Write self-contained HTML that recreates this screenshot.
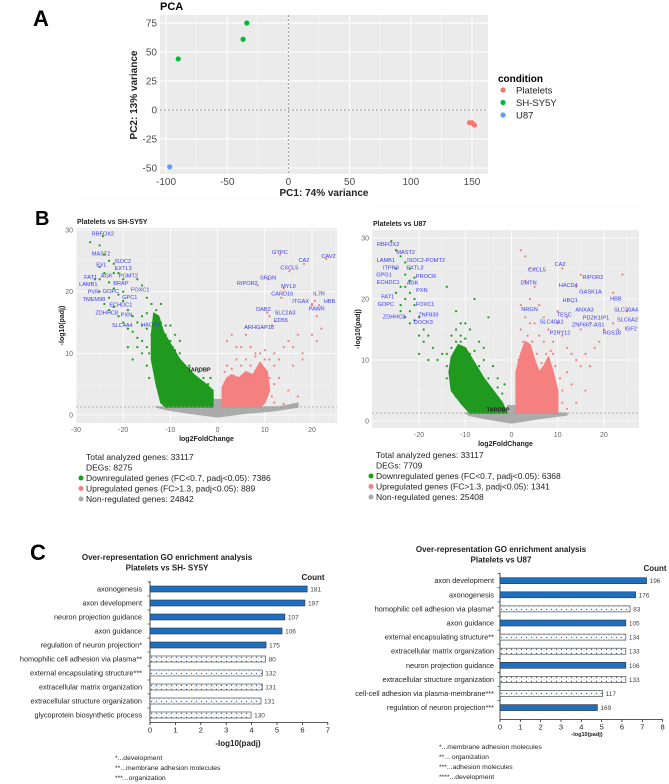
<!DOCTYPE html>
<html><head><meta charset="utf-8">
<style>
html,body{margin:0;padding:0;background:#fff;}
svg{display:block;font-family:"Liberation Sans",sans-serif;}
</style></head>
<body>
<svg id="fig" width="669" height="784" viewBox="0 0 669 784" xmlns="http://www.w3.org/2000/svg">
<defs>
<pattern id="hatch" width="5" height="4" patternUnits="userSpaceOnUse">
<rect width="5" height="4" fill="#fff"/>
<circle cx="1.5" cy="1.5" r="0.7" fill="#2e75b6"/>
<circle cx="4" cy="3" r="0.5" fill="#7fa7d6"/>
</pattern>
</defs>
</svg>
<script>
// ---------- PCA data ----------
const pcaGroups = ["Platelets","SH-SY5Y","U87"];
const pcaPC1 = [148,150,152,-90,-37,-34,-97];
const pcaPC2 = [-11,-11,-13,44,61,75,-49];
const pcaGroupOf = [0,0,0,1,1,1,2];
const pcaXTicks = [-100,-50,0,50,100,150];
const pcaYTicks = [-50,-25,0,25,50,75];

// ---------- Volcano left data ----------
const vL_greenCloud = [[-1,1.3],[-1,4],[-2.5,5],[-5,6.5],[-8,9],[-10,11.5],[-11.5,13.5],[-12.5,16],[-13.5,16.5],[-14,13],[-14,9],[-13,5],[-12,2],[-11,1.3]];
const vL_redCloud = [[1,1.3],[1,4.5],[2,6],[3,6.5],[4.5,6],[6,7],[7.5,6.5],[9,8.5],[10.5,7],[11,4],[10,2],[9,1.3]];
const vL_greyCloud = [[-13,1.3],[-1,1.3],[-0.8,2.5],[0.8,2.5],[1,1.3],[13,1.3],[17,1.9],[17,1.3],[12,0.7],[6,0.3],[0,-0.3],[-6,0.3],[-11,0.9]];
const vL_green = [[-27,28],[-25,27.5],[-24,26],[-23,25],[-25,24],[-22,24.5],[-24,23],[-21,23],[-26,22],[-23,21.5],[-20,22],[-22,20.5],[-25,20],[-21,19.5],[-23,19],[-20,18.5],[-24,18],[-22,17.5],[-19,17],[-21,16],[-18,16],[-20,15],[-17,15],[-16,14.5],[-15,14],[-18,13.5],[-14,13],[-16,12],[-19,11],[-13,17],[-14,18],[-15,19],[-16,21],[-17,22],[-18,9],[-16,10],[-17,11],[-6,5],[-5,4.5],[-4,3],[-7,6],[-8,12],[-9,13],[-10,14.5],[-11,13],[-12,18],[-24.3,29],[-25,22],[-22,23],[-23,17],[-20,20],[-19,14],[-2,5],[-3,6],[-4,7],[-5,5.5],[-6,8],[-7,7.5],[-8,10],[-9,10.5],[-10,12],[-11,14.5],[-12,15],[-13,14],[-14.5,10],[-15,11],[-15,8],[-14.5,6],[-12,7],[-1.5,6],[-2.5,4.5],[-6.5,6.5],[-9.5,11],[-13,12.5],[-11.5,11],[-17,12.5],[-16,16],[-15,16.5]];
const vL_red = [[3,13],[5,11],[6,13],[8,10],[9,8],[10,9],[12,10],[13,9],[14,11],[15,12],[16,11],[17,13],[18,10],[20,13],[21,16],[20,18],[21,12],[22,14],[7,5],[11,6],[13,6],[15,4],[17,3],[12,2],[14,1.8],[13.2,26],[18.3,24.5],[23,25.3],[15.2,23.3],[10.7,22],[8.5,21],[14,20.5],[13.5,19],[20.6,18.5],[20,17.8],[21.5,17.8],[10.5,16.6],[11,16],[12.2,15.2],[11.5,14.5],[1.5,7],[2,8],[3,7.5],[4,9],[5,8],[6,9],[7,8],[8,9.5],[9,10],[10,10.5],[11,9],[12,8],[12,5],[11.5,3],[2,12],[4,11],[7,11],[16,8],[18,9]];
const vL_labels = ["RBFOX2","MAST2","ISOC2","EXTL3","EVL","FAT1","AGK","POMT2","LAMB1","BRAP","PVR","GOPC","FOXC1","TMEM98","GPC1","ECHDC1","ZDHHC8","PXN","SLC4A4","HACD3","GYPC","CA2","CAV2","CXCL5","SRGN","RIPOR2","MYL9","CARD16","IL7R","ITGAX","HBB","PAWR","DAB2","SLC2A3","CD55","ARHGAP18"];
const vL_labX = [-24.3,-24.7,-20.1,-20,-24.6,-26.9,-23.5,-18.9,-27.4,-20.5,-26.3,-22.6,-16.4,-26.2,-18.6,-20.5,-23.5,-19.3,-20.2,-14.2,13.2,18.3,23.5,15.2,10.7,6.3,15,13.7,21.5,17.6,23.7,21,9.7,14.3,13.4,8.8];
const vL_labY = [29.4,26.2,25,23.8,24.4,22.4,22.6,22.6,21.2,21.4,20,20.1,20.3,18.8,19.1,17.9,16.6,16.3,14.6,14.7,26.4,25.1,25.8,23.9,22.3,21.4,20.9,19.7,19.7,18.5,18.5,17.3,17.2,16.6,15.4,14.3];
const vL_xTicks = [-30,-20,-10,0,10,20];
const vL_yTicks = [0,10,20,30];
const vL_legend = ["Total analyzed genes: 33117","DEGs: 8275","Downregulated genes (FC<0.7, padj<0.05): 7386","Upregulated genes (FC>1.3, padj<0.05): 889","Non-regulated genes: 24842"];

// ---------- Volcano right data ----------
const vR_greenCloud = [[-1,1.3],[-2,3],[-4,5],[-6,7],[-8,9.5],[-10,12],[-11.5,12.5],[-13,10.5],[-13.5,8],[-13,5],[-11,3],[-9,1.3]];
const vR_redCloud = [[1,1.3],[1,8],[2,11],[3,13],[4,12.5],[5,10],[6,8],[7,9],[8,10.5],[9,8],[10,5],[10,1.3]];
const vR_greyCloud = [[-10,1.3],[-1,1.3],[-0.8,2.5],[0.8,2.5],[1,1.3],[12,1.3],[12,1.0],[6,0.4],[0,-0.3],[-5,0.3],[-9,0.9]];
const vR_green = [[-26,29.5],[-25,28],[-24,27],[-23,26],[-22,25],[-25,25],[-23,24],[-21,23.5],[-24,22],[-22,21],[-25,21],[-23,20],[-21,19],[-24,19],[-22,18],[-20,17],[-23,17],[-21,16.5],[-19,15],[-20,14],[-18,14],[-19,13],[-17,12],[-15,11],[-16,10],[-14,9],[-13,14],[-14,22],[-12,18],[-10,16],[-8,20],[-9,15],[-11,14],[-6,12],[-5,17],[-4,9],[-3,7],[-7,13],[-18,10],[-20,11],[-22,23],[-23,22],[-24,18],[-21,20],[-22,16],[-2,4.5],[-3,5.5],[-5,7],[-7,9],[-9,11],[-10,13.5],[-11,13],[-12,13],[-13,12],[-14,11],[-14,7],[-12,4],[-1.5,6],[-6,10],[-8,11.5],[-12,15],[-11,16]];
const vR_red = [[2,28],[3,27],[4,25],[3,23],[5,22],[4,20],[6,19],[2,19],[3,17],[5,16],[7,17],[6,14],[8,15],[9,13],[10,16],[11,14],[12,12],[13,11],[14,10],[15,9],[16,11],[17,9],[18,12],[19,13],[14,22],[15,24],[22,21],[24,24],[25,18],[22,16],[23,15],[10,18],[9,11],[16,5],[14,3],[12,2],[5,25],[11,25],[12,17],[15,15],[17,16],[20,15],[1.5,10],[2.5,13],[3.5,14],[4.5,13],[5.5,11],[6.5,9.5],[7.5,11],[8.5,11.5],[9.5,9],[10.5,7],[11,5],[11,3],[2,15],[4,16],[7,13],[12,8],[13,6]];
const vR_labels = ["RBFOX2","MAST2","LAMB1","ISOC2-POMT2","ITPR3","EXTL3","GPG1","PROCR","ECHDC1","AGK","PXN","FAT1","GOPC","FOXC1","ZNF839","ZDHHC8","DOCK3","CXCL5","CA2","RIPOR2","DMTN","HACD4","GASK1A","HBQ1","HBB","NRGN","ANXA3","SLC30A4","TESC","PDZK1IP1","SLC6A2","SLC40A1","ZNF667-AS1","IGF2","P2RY12","RGS18"];
const vR_labX = [-26.7,-22.9,-27.2,-18.5,-26.1,-20.9,-27.6,-18.5,-26.7,-21.4,-19.4,-26.8,-27.2,-18.7,-18,-25.4,-19.1,5.5,10.5,17.6,3.7,12.3,17.1,12.7,22.6,3.9,15.8,24.8,11.4,18.3,25.1,8.7,16.6,25.8,10.5,21.7];
const vR_labY = [29,27.7,26.4,26.4,25.2,25.2,24,23.8,22.8,22.7,21.5,20.4,19.2,19.2,17.5,17.1,16.2,24.8,25.7,23.6,22.7,22.3,21.2,19.8,20.1,18.4,18.3,18.3,17.5,17,16.6,16.3,15.8,15.2,14.5,14.5];
const vR_xTicks = [-20,-10,0,10,20];
const vR_yTicks = [0,10,20,30];
const vR_legend = ["Total analyzed genes: 33117","DEGs: 7709","Downregulated genes (FC<0.7, padj<0.05): 6368","Upregulated genes (FC>1.3, padj<0.05): 1341","Non-regulated genes: 25408"];

// ---------- Bar charts ----------
const bL_terms = ["axonogenesis","axon development","neuron projection guidance","axon guidance","regulation of neuron projection*","homophilic cell adhesion via plasma**","external encapsulating structure***","extracellular matrix organization","extracellular structure organization","glycoprotein biosynthetic process"];
const bL_values = [6.19,6.1,5.31,5.2,4.57,4.55,4.42,4.42,4.37,3.98];
const bL_counts = [181,197,107,106,175,80,132,131,131,130];
const bL_hatched = [0,0,0,0,0,1,1,1,1,1];
const bL_ticks = [0,1,2,3,4,5,6,7];
const bL_notes = ["*...development","**...membrane adhesion molecules","***...organization"];

const bR_terms = ["axon development","axonogenesis","homophilic cell adhesion via plasma*","axon guidance","external encapsulating structure**","extracellular matrix organization","neuron projection guidance","extracellular structure organization","cell-cell adhesion via plasma-membrane***","regulation of neuron projection***"];
const bR_values = [7.21,6.67,6.4,6.19,6.19,6.19,6.19,6.19,5.05,4.79];
const bR_counts = [196,176,83,105,134,133,106,133,117,169];
const bR_hatched = [0,0,1,0,1,1,0,1,1,0];
const bR_ticks = [0,1,2,3,4,5,6,7,8];
const bR_notes = ["*...membrane adhesion molecules","**... organization","***...adhesion molecules","****...development"];

const NS = "http://www.w3.org/2000/svg";
const svg = document.getElementById("fig");
function mk(tag, attrs, name, parent) {
  const e = document.createElementNS(NS, tag);
  for (const k in attrs) e.setAttribute(k, attrs[k]);
  
  
  (parent || svg).appendChild(e);
  return e;
}
function txt(x, y, s, attrs, name, parent) {
  const e = mk("text", Object.assign({x: x, y: y}, attrs), name, parent);
  e.textContent = s;
  return e;
}

txt(33, 26, "A", {"font-size": 22, "font-weight": "bold"}, "panel-label-a");
txt(35, 225, "B", {"font-size": 20, "font-weight": "bold"}, "panel-label-b");
txt(30, 560, "C", {"font-size": 22, "font-weight": "bold"}, "panel-label-c");

// ---------- PCA ----------
(function () {
  const g = mk("g", {}, "pca-chart");
  const L = 160, R = 488, T = 15, B = 174;
  const sx = v => 288.4 + v * 1.224;
  const sy = v => 110 - v * 1.16;
  mk("rect", {x: L, y: T, width: R - L, height: B - T, fill: "#ebebeb"}, "pca-panel", g);
  for (let i = 0; i < pcaXTicks.length; i++) {
    const x = sx(pcaXTicks[i]);
    mk("line", {x1: x, x2: x, y1: T, y2: B, stroke: "#fff", "stroke-width": 1}, "pca-x-grid", g);
    if (i < pcaXTicks.length - 1) {
      const xm = sx((pcaXTicks[i] + pcaXTicks[i + 1]) / 2);
      mk("line", {x1: xm, x2: xm, y1: T, y2: B, stroke: "#f7f7f7", "stroke-width": 0.5}, "pca-x-minor-grid", g);
    }
    txt(x, 185, pcaXTicks[i], {"font-size": 10, fill: "#4d4d4d", "text-anchor": "middle"}, "pca-x-tick", g);
  }
  for (let i = 0; i < pcaYTicks.length; i++) {
    const y = sy(pcaYTicks[i]);
    mk("line", {x1: L, x2: R, y1: y, y2: y, stroke: "#fff", "stroke-width": 1}, "pca-y-grid", g);
    txt(157, y + 3.5, pcaYTicks[i], {"font-size": 10, fill: "#4d4d4d", "text-anchor": "end"}, "pca-y-tick", g);
  }
  mk("line", {x1: sx(0), x2: sx(0), y1: T, y2: B, stroke: "#999", "stroke-dasharray": "2,2"}, "pca-zero-vline", g);
  mk("line", {x1: L, x2: R, y1: sy(0), y2: sy(0), stroke: "#999", "stroke-dasharray": "2,2"}, "pca-zero-hline", g);
  const cols = ["#F8766D", "#00BA38", "#619CFF"];
  for (let i = 0; i < pcaPC1.length; i++) {
    mk("circle", {cx: sx(pcaPC1[i]), cy: sy(pcaPC2[i]), r: 2.6, fill: cols[pcaGroupOf[i]]}, "pca-point", g);
  }
  txt(160, 10, "PCA", {"font-size": 11, "font-weight": "bold"}, "pca-title", g);
  txt(324, 196, "PC1: 74% variance", {"font-size": 10, "font-weight": "bold", "text-anchor": "middle", fill: "#222"}, "pca-x-title", g);
  txt(0, 0, "PC2: 13% variance", {"font-size": 10, "font-weight": "bold", "text-anchor": "middle", fill: "#222", transform: "translate(137,95) rotate(-90)"}, "pca-y-title", g);
  txt(498, 82, "condition", {"font-size": 10, "font-weight": "bold"}, "pca-legend-title", g);
  for (let i = 0; i < pcaGroups.length; i++) {
    const y = 90 + i * 12.5;
    mk("circle", {cx: 503, cy: y, r: 2.6, fill: cols[i]}, "pca-legend-key", g);
    txt(516, y + 3.5, pcaGroups[i], {"font-size": 9.5, fill: "#222"}, "pca-legend-entry", g);
  }
})();

// ---------- Volcano ----------
function volcano(cfg) {
  const g = mk("g", {}, cfg.name);
  const sx = v => cfg.x0 + v * cfg.kx;
  const sy = v => cfg.y0 - v * cfg.ky;
  mk("rect", {x: cfg.L, y: cfg.T, width: cfg.R - cfg.L, height: cfg.B - cfg.T, fill: "#ebebeb"}, "volcano-panel", g);
  cfg.xTicks.forEach(t => {
    mk("line", {x1: sx(t), x2: sx(t), y1: cfg.T, y2: cfg.B, stroke: "#fff", "stroke-width": 0.8}, "volcano-x-grid", g);
    mk("line", {x1: sx(t + 5), x2: sx(t + 5), y1: cfg.T, y2: cfg.B, stroke: "#f5f5f5", "stroke-width": 0.4}, "volcano-x-minor-grid", g);
    txt(sx(t), cfg.B + 9, t, {"font-size": 7, fill: "#666", "text-anchor": "middle"}, "volcano-x-tick", g);
  });
  cfg.yTicks.forEach(t => {
    mk("line", {x1: cfg.L, x2: cfg.R, y1: sy(t), y2: sy(t), stroke: "#fff", "stroke-width": 0.8}, "volcano-y-grid", g);
    mk("line", {x1: cfg.L, x2: cfg.R, y1: sy(t + 5), y2: sy(t + 5), stroke: "#f5f5f5", "stroke-width": 0.4}, "volcano-y-minor-grid", g);
    txt(cfg.L - 3, sy(t) + 2.5, t, {"font-size": 7, fill: "#666", "text-anchor": "end"}, "volcano-y-tick", g);
  });
  const poly = (pts, fill, nm) => mk("polygon", {points: pts.map(p => sx(p[0]) + "," + sy(p[1])).join(" "), fill: fill, stroke: fill, "stroke-width": 1.5, "stroke-linejoin": "round"}, nm, g);
  poly(cfg.grey, "#ababab", "volcano-nonsig-cloud");
  poly(cfg.greenC, "#1f9a1f", "volcano-down-cloud");
  poly(cfg.redC, "#f48080", "volcano-up-cloud");
  cfg.green.forEach(p => mk("circle", {cx: sx(p[0]), cy: sy(p[1]), r: 1.1, fill: "#1f9a1f"}, "volcano-down-point", g));
  cfg.red.forEach(p => mk("circle", {cx: sx(p[0]), cy: sy(p[1]), r: 1.1, fill: "#f48080"}, "volcano-up-point", g));
  mk("line", {x1: cfg.L, x2: cfg.R, y1: sy(1.3), y2: sy(1.3), stroke: "#999", "stroke-width": 0.6, "stroke-dasharray": "2,2"}, "volcano-threshold-line", g);
  for (let i = 0; i < cfg.labels.length; i++) {
    txt(sx(cfg.labX[i]), sy(cfg.labY[i]) + 2, cfg.labels[i], {"font-size": 5.6, fill: "#3b3bf0", "text-anchor": "middle"}, "volcano-gene-label", g);
  }
  txt(sx(cfg.tard[0]), sy(cfg.tard[1]) + 2, "TARDBP", {"font-size": 5.6, "font-weight": "bold", fill: "#222", "text-anchor": "middle"}, "volcano-tardbp-label", g);
  txt(cfg.L + 1, cfg.T - 4, cfg.title, {"font-size": 7, "font-weight": "bold", fill: "#222"}, "volcano-title", g);
  txt((cfg.L + cfg.R) / 2, cfg.B + 18, "log2FoldChange", {"font-size": 7, "font-weight": "bold", fill: "#222", "text-anchor": "middle"}, "volcano-x-title", g);
  txt(0, 0, "-log10(padj)", {"font-size": 7, "font-weight": "bold", fill: "#222", "text-anchor": "middle", transform: "translate(" + (cfg.L - 12) + "," + ((cfg.T + cfg.B) / 2) + ") rotate(-90)"}, "volcano-y-title", g);
  const lcol = [null, null, "#1f9a1f", "#f48080", "#a9a9a9"];
  for (let i = 0; i < cfg.legend.length; i++) {
    const y = cfg.legY + i * 10.5;
    txt(cfg.legX, y + 3, cfg.legend[i], {"font-size": 8.5, fill: "#222"}, "volcano-legend-entry", g);
    if (lcol[i]) mk("circle", {cx: cfg.legX - 5, cy: y, r: 2.5, fill: lcol[i]}, "volcano-legend-key", g);
  }
}
volcano({name: "volcano-sh-sy5y", L: 76, R: 337, T: 228, B: 423, x0: 217.6, kx: 4.72, y0: 415, ky: 6.17,
  xTicks: vL_xTicks, yTicks: vL_yTicks, grey: vL_greyCloud, greenC: vL_greenCloud, redC: vL_redCloud,
  green: vL_green, red: vL_red, labels: vL_labels, labX: vL_labX, labY: vL_labY, tard: [-3.9, 7.4],
  title: "Platelets vs SH-SY5Y", legend: vL_legend, legX: 86, legY: 457});
volcano({name: "volcano-u87", L: 372, R: 639, T: 230, B: 428, x0: 511.5, kx: 4.62, y0: 421, ky: 6.1,
  xTicks: vR_xTicks, yTicks: vR_yTicks, grey: vR_greyCloud, greenC: vR_greenCloud, redC: vR_redCloud,
  green: vR_green, red: vR_red, labels: vR_labels, labX: vR_labX, labY: vR_labY, tard: [-2.9, 1.9],
  title: "Platelets vs U87", legend: vR_legend, legX: 376, legY: 455});

// ---------- Bars ----------
function bars(cfg) {
  const g = mk("g", {}, cfg.name);
  const sx = v => cfg.x0 + v * cfg.k;
  const rowY = i => cfg.y0 + i * cfg.dy;
  mk("line", {x1: cfg.x0, x2: cfg.x0, y1: rowY(0) - 8, y2: cfg.axisY, stroke: "#222", "stroke-width": 0.8}, "bar-y-axis", g);
  mk("line", {x1: cfg.x0, x2: sx(cfg.ticks[cfg.ticks.length - 1]), y1: cfg.axisY, y2: cfg.axisY, stroke: "#222", "stroke-width": 0.8}, "bar-x-axis", g);
  cfg.ticks.forEach(t => {
    mk("line", {x1: sx(t), x2: sx(t), y1: cfg.axisY, y2: cfg.axisY + 2.5, stroke: "#222", "stroke-width": 0.8}, "bar-x-tickmark", g);
    txt(sx(t), cfg.axisY + 10, t, {"font-size": 7.5, fill: "#222", "text-anchor": "middle"}, "bar-x-tick", g);
  });
  for (let i = 0; i < cfg.terms.length; i++) {
    const y = rowY(i);
    mk("line", {x1: cfg.x0 - 2.5, x2: cfg.x0, y1: y - 7, y2: y - 7, stroke: "#222", "stroke-width": 0.6}, "bar-y-tickmark", g);
    mk("rect", {x: cfg.x0, y: y - 3, width: sx(cfg.values[i]) - cfg.x0, height: 6,
      fill: cfg.hatched[i] ? "url(#hatch)" : "#1f6fc0", stroke: "#333", "stroke-width": 0.6}, "bar-" + i, g);
    txt(sx(cfg.values[i]) + 3, y + 2.5, cfg.counts[i], {"font-size": 6.5, fill: "#444"}, "bar-count-label", g);
    txt(cfg.labX, y + 2.5, cfg.terms[i], {"font-size": 7.3, fill: "#222", "text-anchor": "end"}, "bar-term-label", g);
  }
  txt(cfg.titleX, cfg.titleY, "Over-representation GO enrichment analysis", {"font-size": 8, "font-weight": "bold", "text-anchor": "middle", fill: "#222"}, "bar-title", g);
  txt(cfg.titleX, cfg.titleY + 10.5, cfg.sub, {"font-size": 8, "font-weight": "bold", "text-anchor": "middle", fill: "#222"}, "bar-subtitle", g);
  txt(cfg.countX, cfg.countY, "Count", {"font-size": 8, "font-weight": "bold", "text-anchor": "middle", fill: "#222"}, "bar-count-header", g);
  txt(cfg.xtX, cfg.xtY, "-log10(padj)", {"font-size": cfg.xtSize, "font-weight": "bold", "text-anchor": "middle", fill: "#222"}, "bar-x-title", g);
  for (let i = 0; i < cfg.notes.length; i++) {
    txt(cfg.noteX, cfg.noteY + i * 10, cfg.notes[i], {"font-size": 6.8, fill: "#222"}, "bar-footnote", g);
  }
}
bars({name: "go-bars-sh-sy5y", x0: 150, k: 25.4, y0: 589, dy: 14.0, axisY: 722.5, ticks: bL_ticks,
  terms: bL_terms, values: bL_values, counts: bL_counts, hatched: bL_hatched, labX: 142,
  titleX: 167, titleY: 560, sub: "Platelets vs SH- SY5Y", countX: 313, countY: 580,
  xtX: 238, xtY: 746, xtSize: 8, notes: bL_notes, noteX: 115, noteY: 760});
bars({name: "go-bars-u87", x0: 500, k: 20.33, y0: 580.7, dy: 14.1, axisY: 719.5, ticks: bR_ticks,
  terms: bR_terms, values: bR_values, counts: bR_counts, hatched: bR_hatched, labX: 494,
  titleX: 501, titleY: 552, sub: "Platelets vs U87", countX: 655, countY: 571,
  xtX: 587, xtY: 736, xtSize: 5.5, notes: bR_notes, noteX: 439, noteY: 749});
</script>
</body></html>
